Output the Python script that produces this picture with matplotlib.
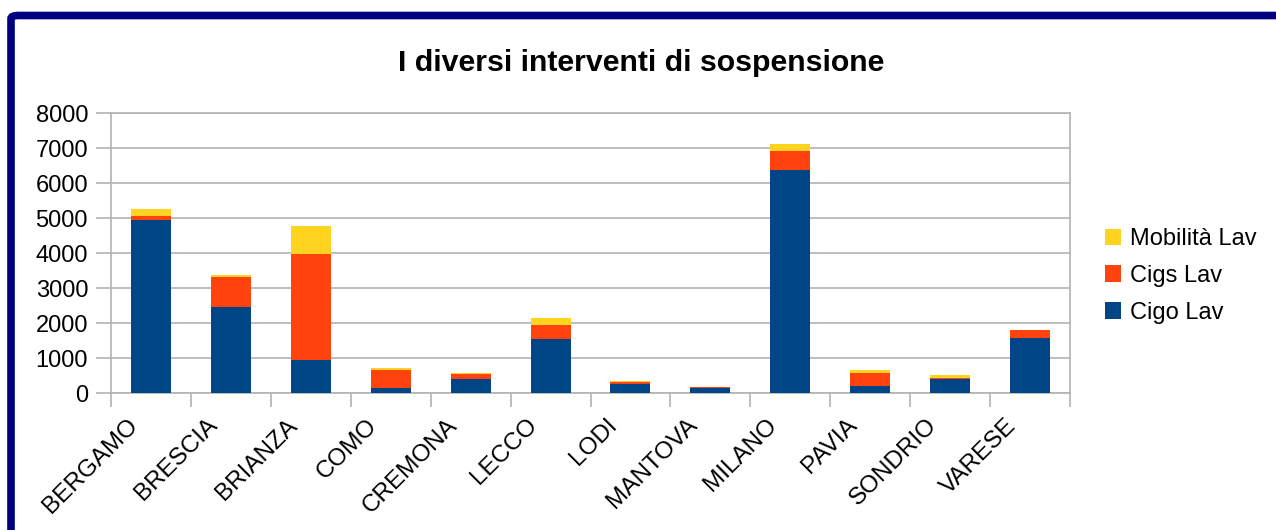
import numpy as np
import matplotlib
matplotlib.use("Agg")
import matplotlib.pyplot as plt
import matplotlib.transforms as mtransforms
from matplotlib.patches import FancyBboxPatch

# data
provinces = ["BERGAMO", "BRESCIA", "BRIANZA", "COMO", "CREMONA", "LECCO",
             "LODI", "MANTOVA", "MILANO", "PAVIA", "SONDRIO", "VARESE"]
cigo_lav = [4950, 2460, 945, 152, 400, 1546, 267, 152, 6386, 210, 400, 1584]
cigs_lav = [125, 868, 3044, 515, 152, 410, 57, 28, 544, 363, 38, 220]
mobilita_lav = [190, 48, 802, 58, 28, 200, 28, 0, 200, 86, 76, 0]

BLUE = "#004586"
RED = "#ff420e"
YELLOW = "#ffd320"
GREY = "#b3b3b3"

plt.rcParams["font.family"] = ["Liberation Sans", "DejaVu Sans"]


def main():
    fig = plt.figure(figsize=(12.76, 5.30), dpi=100)
    ax = fig.add_axes([111 / 1276, 137 / 530, 959 / 1276, 279.5 / 530])

    x = np.arange(len(provinces))
    cigo = np.array(cigo_lav)
    cigs = np.array(cigs_lav)
    mob = np.array(mobilita_lav)

    b1 = ax.bar(x, cigo, 0.5, color=BLUE, label="Cigo Lav", zorder=3)
    b2 = ax.bar(x, cigs, 0.5, bottom=cigo, color=RED, label="Cigs Lav", zorder=3)
    b3 = ax.bar(x, mob, 0.5, bottom=cigo + cigs, color=YELLOW, label="Mobilità Lav", zorder=3)

    ax.set_xlim(-0.5, len(provinces) - 0.5)
    ax.set_ylim(0, 8000)
    ax.set_yticks(np.arange(0, 8001, 1000))
    ax.yaxis.grid(True, color=GREY, linewidth=1.2, zorder=0)

    ax.set_xticks(x)
    ax.set_xticks(np.arange(-0.5, len(provinces), 1), minor=True)
    ax.tick_params(axis="x", which="major", length=0, pad=8)
    ax.tick_params(axis="x", which="minor", length=10, width=1.2, color=GREY)
    ax.tick_params(axis="y", length=11, width=1.2, color=GREY, pad=5.5, labelsize=17)

    offset = mtransforms.ScaledTranslation(-17 / 100, -18 / 100, fig.dpi_scale_trans)
    ax.set_xticklabels(provinces, rotation=45, ha="right", va="center",
                       rotation_mode="anchor", fontsize=17.5)
    for lbl in ax.get_xticklabels():
        lbl.set_transform(lbl.get_transform() + offset)

    for s in ax.spines.values():
        s.set_color(GREY)
        s.set_linewidth(1.2)

    fig.text(641 / 1276, 1 - 63 / 530, "I diversi interventi di sospensione",
             ha="center", va="center", fontsize=21.8, fontweight="bold")

    fig.legend(handles=[b3, b2, b1], loc="center left",
               bbox_to_anchor=(1093 / 1276, 1 - 276 / 530), frameon=False,
               fontsize=17, handlelength=0.7, handleheight=0.7,
               handletextpad=0.35, labelspacing=0.62, borderpad=0)

    # dark blue frame, cut off at the right and bottom like the original
    frame = FancyBboxPatch((11 / 1276, -0.2), 1.3, 1.2 - 15.5 / 530,
                           boxstyle="round,pad=0,rounding_size=0.006",
                           transform=fig.transFigure, fill=False,
                           edgecolor="#000080", linewidth=5.5, zorder=10)
    fig.patches.append(frame)

    fig.savefig("out.png", dpi=100)


if __name__ == "__main__":
    main()
